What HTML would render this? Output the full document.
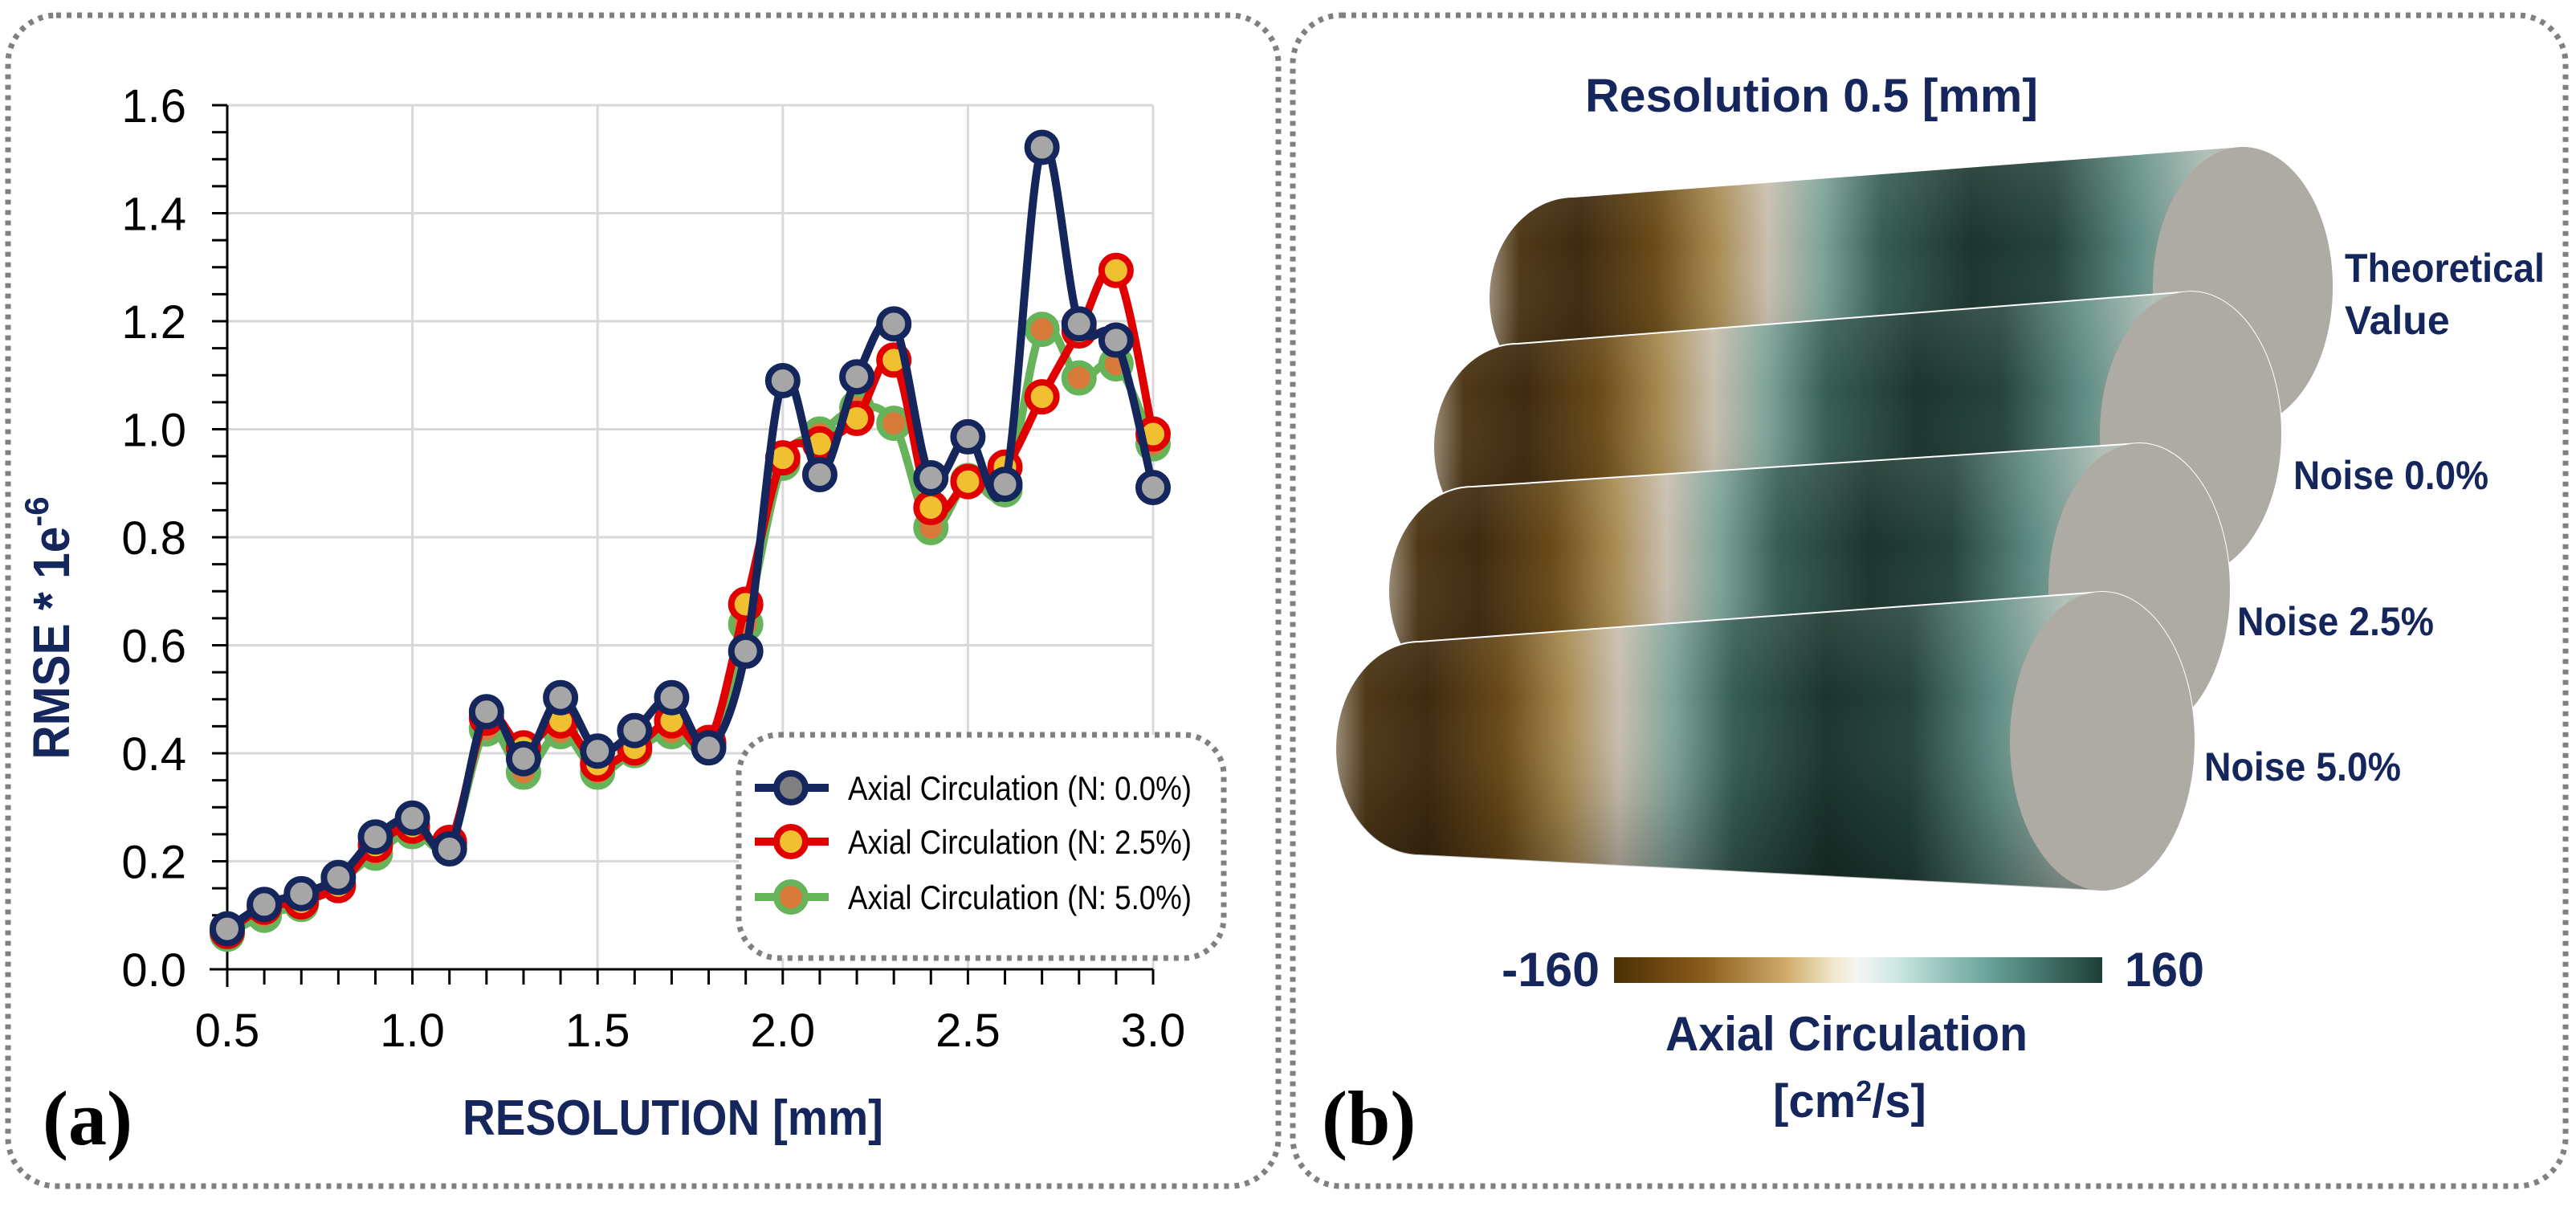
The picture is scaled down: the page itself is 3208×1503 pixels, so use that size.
<!DOCTYPE html>
<html><head><meta charset="utf-8"><style>
html,body{margin:0;padding:0;background:#fff;}
svg{display:block;}
text{font-family:"Liberation Sans",sans-serif;}
</style></head><body>
<svg id="fig" width="3208" height="1503" viewBox="0 0 3208 1503" xmlns="http://www.w3.org/2000/svg">
<defs>
<linearGradient id="cbar" x1="0" y1="0" x2="1" y2="0">
<stop offset="0" stop-color="#4a3006"/><stop offset="0.18" stop-color="#8a5a1a"/><stop offset="0.36" stop-color="#d2b070"/>
<stop offset="0.45" stop-color="#f0e8cc"/><stop offset="0.5" stop-color="#f4f4f4"/><stop offset="0.58" stop-color="#cce8e2"/>
<stop offset="0.76" stop-color="#6aa69c"/><stop offset="1" stop-color="#1c3f37"/>
</linearGradient>
<linearGradient id="shade" x1="0" y1="0" x2="0" y2="1">
<stop offset="0" stop-color="#fff" stop-opacity="0.12"/><stop offset="0.35" stop-color="#fff" stop-opacity="0"/>
<stop offset="0.7" stop-color="#000" stop-opacity="0.08"/><stop offset="1" stop-color="#000" stop-opacity="0.3"/>
</linearGradient>
</defs>

<rect x="10" y="19" width="1582" height="1458" rx="60" fill="none" stroke="#808080" stroke-width="7" stroke-dasharray="6 7"/>
<rect x="1610" y="19" width="1585" height="1458" rx="60" fill="none" stroke="#808080" stroke-width="7" stroke-dasharray="6 7"/>

<g id="chart"></g>

<g>
<rect x="920" y="915" width="604" height="278" rx="50" fill="#fff" stroke="#808080" stroke-width="7" stroke-dasharray="6 7"/>
<g>
<line x1="940" y1="981" x2="1032" y2="981" stroke="#14265c" stroke-width="10"/>
<circle cx="985" cy="981" r="18" fill="#808080" stroke="#14265c" stroke-width="8"/>
<text x="1056" y="996" font-size="42" textLength="428" lengthAdjust="spacingAndGlyphs">Axial Circulation (N: 0.0%)</text></g>
<g>
<line x1="940" y1="1048" x2="1032" y2="1048" stroke="#e00000" stroke-width="10"/>
<circle cx="985" cy="1048" r="18" fill="#f0c030" stroke="#e00000" stroke-width="8"/>
<text x="1056" y="1063" font-size="42" textLength="428" lengthAdjust="spacingAndGlyphs">Axial Circulation (N: 2.5%)</text></g>
<g>
<line x1="940" y1="1117" x2="1032" y2="1117" stroke="#66b35a" stroke-width="10"/>
<circle cx="985" cy="1117" r="18" fill="#d87a3a" stroke="#66b35a" stroke-width="8"/>
<text x="1056" y="1132" font-size="42" textLength="428" lengthAdjust="spacingAndGlyphs">Axial Circulation (N: 5.0%)</text></g>
</g>

<text x="86" y="782" font-size="64" font-weight="bold" fill="#14265c" text-anchor="middle" transform="rotate(-90 86 782)"><tspan textLength="290" lengthAdjust="spacingAndGlyphs">RMSE * 1e</tspan><tspan dy="-26" font-size="42">-6</tspan></text>
<text x="838" y="1413" font-size="62" font-weight="bold" fill="#14265c" text-anchor="middle" textLength="524" lengthAdjust="spacingAndGlyphs">RESOLUTION [mm]</text>
<text x="53" y="1425" font-size="96" font-weight="bold" style="font-family:'Liberation Serif',serif">(a)</text>

<text x="1974" y="139" font-size="58" font-weight="bold" fill="#14265c" textLength="564" lengthAdjust="spacingAndGlyphs">Resolution 0.5 [mm]</text>
<g id="cyls"></g>
<text x="2920" y="351" font-size="50" font-weight="bold" fill="#14265c" textLength="249" lengthAdjust="spacingAndGlyphs">Theoretical</text>
<text x="2920" y="416" font-size="50" font-weight="bold" fill="#14265c">Value</text>
<text x="2856" y="609" font-size="50" font-weight="bold" fill="#14265c" textLength="243" lengthAdjust="spacingAndGlyphs">Noise 0.0%</text>
<text x="2786" y="791" font-size="50" font-weight="bold" fill="#14265c" textLength="245" lengthAdjust="spacingAndGlyphs">Noise 2.5%</text>
<text x="2745" y="972" font-size="50" font-weight="bold" fill="#14265c" textLength="245" lengthAdjust="spacingAndGlyphs">Noise 5.0%</text>
<rect x="2010" y="1192" width="608" height="32" fill="url(#cbar)"/>
<text x="1870" y="1228" font-size="60" font-weight="bold" fill="#14265c" textLength="122" lengthAdjust="spacingAndGlyphs">-160</text>
<text x="2646" y="1228" font-size="60" font-weight="bold" fill="#14265c" textLength="99" lengthAdjust="spacingAndGlyphs">160</text>
<text x="2074" y="1308" font-size="60" font-weight="bold" fill="#14265c" textLength="451" lengthAdjust="spacingAndGlyphs">Axial Circulation</text>
<text x="2208" y="1391" font-size="58" font-weight="bold" fill="#14265c">[cm<tspan dy="-20" font-size="36">2</tspan><tspan dy="20">/s]</tspan></text>
<text x="1646" y="1425" font-size="96" font-weight="bold" style="font-family:'Liberation Serif',serif">(b)</text>
</svg>
<script>
const xValues=[0.5,0.6,0.7,0.8,0.9,1.0,1.1,1.2,1.3,1.4,1.5,1.6,1.7,1.8,1.9,2.0,2.1,2.2,2.3,2.4,2.5,2.6,2.7,2.8,2.9,3.0];
const seriesN0=[0.075,0.12,0.14,0.17,0.245,0.28,0.223,0.477,0.39,0.503,0.404,0.442,0.503,0.41,0.589,1.09,0.916,1.097,1.195,0.91,0.986,0.898,1.522,1.195,1.165,0.892];
const seriesN25=[0.07,0.115,0.125,0.155,0.23,0.265,0.235,0.465,0.41,0.46,0.38,0.41,0.46,0.42,0.676,0.947,0.973,1.02,1.128,0.855,0.903,0.93,1.06,1.182,1.294,0.991];
const seriesN50=[0.065,0.1,0.12,0.16,0.215,0.255,0.23,0.445,0.365,0.44,0.365,0.405,0.44,0.415,0.639,0.937,0.991,1.04,1.011,0.818,0.905,0.888,1.185,1.095,1.121,0.973];
const xTickLabels=["0.5","1.0","1.5","2.0","2.5","3.0"];
const yTickLabels=["0.0","0.2","0.4","0.6","0.8","1.0","1.2","1.4","1.6"];

const NS="http://www.w3.org/2000/svg";
const X0=283,X1=1436,Y0=1207,Y1=131;
function sx(v){return X0+(v-0.5)/2.5*(X1-X0);}
function sy(v){return Y0-v/1.6*(Y0-Y1);}
function mk(tag,attrs,parent){const e=document.createElementNS(NS,tag);for(const k in attrs)e.setAttribute(k,attrs[k]);parent.appendChild(e);return e;}
const chart=document.getElementById('chart');
for(let i=1;i<yTickLabels.length;i++){const y=sy(parseFloat(yTickLabels[i]));
 const g=mk('line',{x1:X0,y1:y,x2:X1,y2:y,stroke:'#d9d9d9','stroke-width':3},chart);
 
 }
for(let i=1;i<xTickLabels.length;i++){const x=sx(parseFloat(xTickLabels[i]));
 const g=mk('line',{x1:x,y1:Y0,x2:x,y2:Y1,stroke:'#d9d9d9','stroke-width':3},chart);
 
 }
const ax=mk('line',{x1:X0-22,y1:Y0,x2:X1,y2:Y0,stroke:'#000','stroke-width':3},chart);


const ay=mk('line',{x1:X0,y1:Y0+22,x2:X0,y2:Y1,stroke:'#000','stroke-width':3},chart);


for(let v=0.5;v<=3.0001;v+=0.1){const x=sx(v);mk('line',{x1:x,y1:Y0,x2:x,y2:Y0+19,stroke:'#000','stroke-width':3},chart);}
for(let v=0;v<=1.6001;v+=0.05){const y=sy(v);mk('line',{x1:X0-19,y1:y,x2:X0,y2:y,stroke:'#000','stroke-width':3},chart);}
xTickLabels.forEach(l=>{const t=mk('text',{x:sx(parseFloat(l)),y:1303,'font-size':58,'text-anchor':'middle'},chart);t.textContent=l;
 
 });
yTickLabels.forEach(l=>{const t=mk('text',{x:232,y:sy(parseFloat(l))+21,'font-size':58,'text-anchor':'end'},chart);t.textContent=l;
 
 });
function smooth(vals){const p=vals.map((v,i)=>[sx(xValues[i]),sy(v)]);let d='M'+p[0][0]+','+p[0][1];
 for(let i=0;i<p.length-1;i++){const a=p[Math.max(0,i-1)],b=p[i],c=p[i+1],e=p[Math.min(p.length-1,i+2)];
  const c1=[b[0]+(c[0]-a[0])/6,b[1]+(c[1]-a[1])/6],c2=[c[0]-(e[0]-b[0])/6,c[1]-(e[1]-b[1])/6];
  d+=' C'+c1[0]+','+c1[1]+' '+c2[0]+','+c2[1]+' '+c[0]+','+c[1];}return d;}
function drawSeries(vals,stroke,fill,name){const g=mk('g',{},chart);
 
 
 const p=mk('path',{d:smooth(vals),fill:'none',stroke:stroke,'stroke-width':10,'stroke-linejoin':'round'},g);
 
 
 vals.forEach((v,i)=>{const c=mk('circle',{cx:sx(xValues[i]),cy:sy(v),r:18,fill:fill,stroke:stroke,'stroke-width':8},g);
  
  });}
drawSeries(seriesN50,'#66b35a','#d87a3a','series-n50');
drawSeries(seriesN25,'#e00000','#f0c030','series-n25');
drawSeries(seriesN0,'#14265c','#a6a6a6','series-n0');

const cylGeom=[
 [1960,371,105,125,2793,357,112,174],
 [1890,556,105,128,2728,540,113,177],
 [1834,736,105,130,2664,734,113,182],
 [1768,932,105,133,2618,923,115,186]];
const cg=document.getElementById('cyls');
const defs=document.querySelector('defs');
cylGeom.forEach((c,i)=>{const [lx,ly,lrx,lry,rx,ry,rrx,rry]=c;
 const gid='cg'+i;const lg=mk('linearGradient',{id:gid,gradientUnits:'userSpaceOnUse',x1:lx-lrx,y1:0,x2:rx,y2:0},defs);
 [[0,'#9a8c76'],[0.04,'#4e3818'],[0.12,'#3e2a10'],[0.22,'#6a4a18'],[0.3,'#a88a50'],[0.37,'#c8bfae'],[0.44,'#7fa49a'],[0.52,'#355d54'],[0.64,'#1c342e'],[0.75,'#24433c'],[0.86,'#5f8d84'],[0.95,'#a8b8b0'],[1,'#b0b0aa']].forEach(s=>mk('stop',{offset:s[0],'stop-color':s[1]},lg));
 const d='M'+lx+','+(ly-lry)+' L'+rx+','+(ry-rry)+' A'+rrx+' '+rry+' 0 0 1 '+rx+','+(ry+rry)+' L'+lx+','+(ly+lry)+' A'+lrx+' '+lry+' 0 0 1 '+lx+','+(ly-lry)+' Z';
 const g=mk('g',{},cg);
 
 
 mk('path',{d:d,fill:'url(#'+gid+')',stroke:i>0?'#ffffff':'none','stroke-width':2},g);
 mk('path',{d:d,fill:'url(#shade)'},g);
 mk('ellipse',{cx:rx,cy:ry,rx:rrx,ry:rry,fill:'#aeaba4'},g);});
</script>
</body></html>
